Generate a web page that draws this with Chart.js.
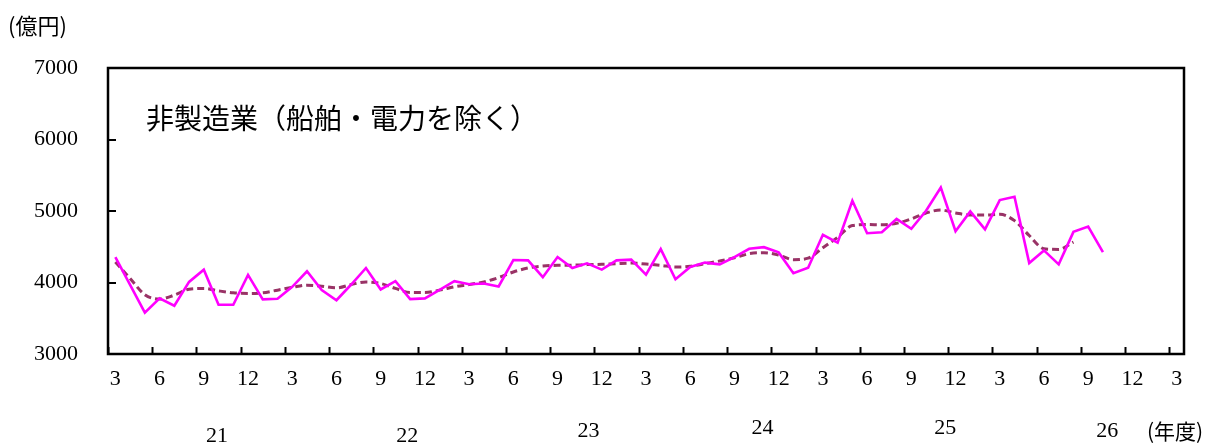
<!DOCTYPE html>
<html>
<head>
<meta charset="utf-8">
<script src="https://cdn.jsdelivr.net/npm/chart.js@4"></script>
<style>
  html, body { margin: 0; padding: 0; background: #fff; }
  #wrap { width: 1218px; height: 446px; position: relative; }
</style>
</head>
<body>
<div id="wrap"><canvas id="myChart" width="1218" height="446"></canvas></div>
<script>
'use strict';

// months from March H21 to March H27 (one category each)
let months = [3, 4, 5, 6, 7, 8, 9, 10, 11, 12, 1, 2,
  3, 4, 5, 6, 7, 8, 9, 10, 11, 12, 1, 2,
  3, 4, 5, 6, 7, 8, 9, 10, 11, 12, 1, 2,
  3, 4, 5, 6, 7, 8, 9, 10, 11, 12, 1, 2,
  3, 4, 5, 6, 7, 8, 9, 10, 11, 12, 1, 2,
  3, 4, 5, 6, 7, 8, 9, 10, 11, 12, 1, 2,
  3];

let fiscalYears = ['21', '22', '23', '24', '25', '26'];

// monthly values (億円)
let monthlyValues = [4356, 3967, 3578, 3778, 3675, 4008, 4180, 3689, 3689, 4106, 3764, 3772,
  3939, 4157, 3893, 3752, 3972, 4203, 3903, 4018, 3768, 3778, 3897, 4018,
  3976, 3986, 3944, 4314, 4310, 4074, 4356, 4203, 4268, 4180, 4310, 4319,
  4111, 4467, 4046, 4217, 4278, 4254, 4356, 4472, 4494, 4421, 4129, 4205,
  4667, 4556, 5143, 4689, 4703, 4889, 4750, 5004, 5328, 4717, 4994, 4744,
  5153, 5199, 4272, 4449, 4254, 4708, 4782, 4425];

// trend line
let trendValues = [4286, 4056, 3830, 3768, 3824, 3907, 3917, 3883, 3856, 3847, 3856, 3893,
  3931, 3963, 3949, 3925, 3972, 4008, 3986, 3917, 3861, 3861, 3893, 3939,
  3972, 4008, 4069, 4147, 4203, 4231, 4240, 4242, 4250, 4254, 4264, 4272,
  4258, 4240, 4217, 4226, 4264, 4300, 4347, 4403, 4417, 4383, 4319, 4340,
  4486, 4633, 4796, 4810, 4806, 4828, 4889, 4972, 5014, 4972, 4944, 4944,
  4953, 4865, 4657, 4472, 4463, 4564];

let yTicks = [3000, 4000, 5000, 6000, 7000];

let numFont = '"Liberation Serif", "DejaVu Serif", serif';
let jpFont = '"Noto Sans CJK JP", sans-serif';

// box, inner tick marks and extra texts
let framePlugin = {
  id: 'frame',
  afterDraw(chart) {
    let c = chart.ctx;
    let a = chart.chartArea;
    let xs = chart.scales.x;
    let ys = chart.scales.y;
    let half = (xs.getPixelForValue(1) - xs.getPixelForValue(0)) / 2;

    c.save();
    c.strokeStyle = '#000';
    c.lineWidth = 2.5;
    c.strokeRect(a.left, a.top, a.right - a.left, a.bottom - a.top);

    c.lineWidth = 2;
    c.beginPath();
    for (let i = 0; i < months.length; i++) {
      if (months[i] % 3 === 0) {
        let x = Math.round(xs.getPixelForValue(i) - half) + 0.5;
        c.moveTo(x, a.bottom);
        c.lineTo(x, a.bottom - 7);
      }
    }
    for (let i = 0; i < yTicks.length; i++) {
      let y = Math.round(ys.getPixelForValue(yTicks[i]));
      c.moveTo(a.left, y);
      c.lineTo(a.left + 8, y);
    }
    c.stroke();

    c.fillStyle = '#000';
    c.textBaseline = 'middle';
    c.textAlign = 'center';
    c.font = '22px ' + numFont;
    let yearPos = [[6.9, 82], [19.8, 82], [32.1, 77], [43.9, 74], [56.3, 74], [67.3, 77]];
    for (let i = 0; i < fiscalYears.length; i++) {
      c.fillText(fiscalYears[i], xs.getPixelForValue(yearPos[i][0]), a.bottom + yearPos[i][1]);
    }
    c.font = '21px ' + jpFont;
    c.fillText('(年度)', 1175, a.bottom + 77);

    c.textAlign = 'left';
    c.font = '22px ' + jpFont;
    c.fillText('(億円)', 8, 26);
    c.font = '28px ' + jpFont;
    c.fillText('非製造業（船舶・電力を除く）', 146, 118);
    c.restore();
  }
};

let ctx = document.getElementById('myChart').getContext('2d');

let myChart = new Chart(ctx, {
  type: 'line',
  data: {
    labels: months,
    datasets: [{
      label: '月次',
      data: monthlyValues,
      borderColor: '#ff00ff',
      backgroundColor: '#ff00ff',
      borderWidth: 2.6,
      pointRadius: 0,
      tension: 0
    },
    {
      label: '傾向',
      data: trendValues,
      borderColor: '#993366',
      backgroundColor: '#993366',
      borderWidth: 3,
      borderDash: [7, 4],
      pointRadius: 0,
      cubicInterpolationMode: 'monotone'
    }]
  },
  options: {
    responsive: false,
    animation: false,
    layout: {
      padding: { left: 0, top: 68, right: 34, bottom: 0 }
    },
    plugins: {
      legend: { display: false },
      tooltip: { enabled: false }
    },
    scales: {
      x: {
        type: 'category',
        offset: true,
        grid: { display: false, drawTicks: false },
        border: { display: false },
        ticks: {
          autoSkip: false,
          maxRotation: 0,
          padding: 12,
          color: '#000',
          font: { family: numFont, size: 22 },
          callback: function (v, i) {
            return months[i] % 3 === 0 ? String(months[i]) : '';
          }
        },
        afterFit(scale) { scale.height = 92; }
      },
      y: {
        min: 3000,
        max: 7000,
        grid: { display: false, drawTicks: false },
        border: { display: false },
        ticks: {
          stepSize: 1000,
          padding: 30,
          color: '#000',
          font: { family: numFont, size: 22 },
          callback: function (v) { return String(v); }
        },
        afterFit(scale) { scale.width = 108; }
      }
    }
  },
  plugins: [framePlugin]
});
</script>
</body>
</html>
